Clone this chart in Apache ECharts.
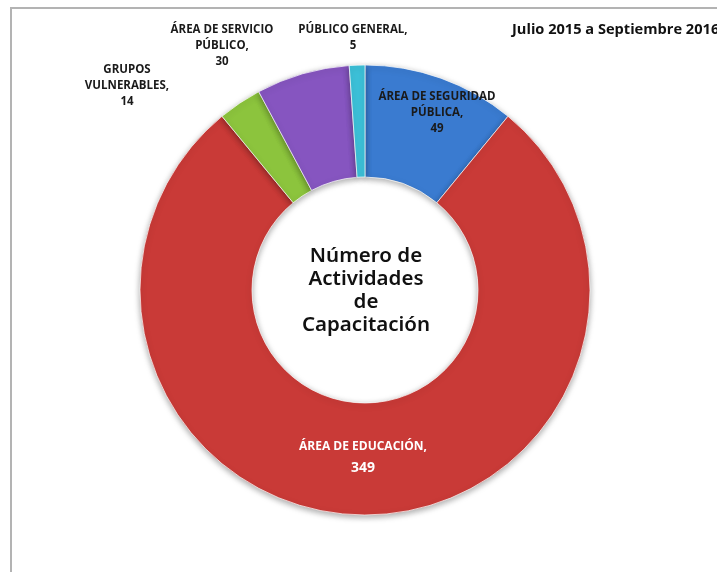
<!DOCTYPE html>
<html>
<head>
<meta charset="utf-8">
<script src="https://cdn.jsdelivr.net/npm/echarts@6/dist/echarts.min.js"></script>
<style>
html,body{margin:0;padding:0;background:#fff;}
#c{width:717px;height:572px;}
</style>
</head>
<body>
<div id="c"></div>
<script>
const categories = ['ÁREA DE SEGURIDAD\nPÚBLICA,', 'ÁREA DE EDUCACIÓN,', 'GRUPOS\nVULNERABLES,', 'ÁREA DE SERVICIO\nPÚBLICO,', 'PÚBLICO GENERAL,'];
const values = [49, 349, 14, 30, 5];
const colors = ['#3a7bd0', '#c93a37', '#8cc43d', '#8655c0', '#3cc0d8'];
const periodText = 'Julio 2015 a Septiembre 2016';
const centerText = 'Número de\nActividades\nde\nCapacitación';

// label anchor positions (label layout only)
const labelPos = [[437, 113], [363, 458], [127, 86], [222, 46], [353, 38]];

const chart = echarts.init(document.getElementById('c'), null, {renderer: 'canvas'});
const labelFont = '"Open Sans", sans-serif';

const data = categories.map((name, i) => {
  const item = {name: name, value: values[i], itemStyle: {color: colors[i]}};
  if (i === 1) {
    item.label = {color: '#ffffff', fontSize: 12, lineHeight: 20, rich: {v: {fontSize: 14, fontWeight: 'bold', color: '#ffffff', lineHeight: 22, fontFamily: labelFont}}};
  }
  return item;
});

chart.setOption({
  animation: false,
  graphic: [
    {type: 'polyline', shape: {points: [[11, 572], [11, 8], [717, 8]]}, style: {stroke: '#b3b3b3', lineWidth: 2, fill: null}, z: 0},
    {type: 'text', left: 512, top: 22, style: {text: periodText, font: 'bold 14.6px "Open Sans", sans-serif', fill: '#111'}},
    {type: 'text', x: 366, y: 291, style: {text: centerText, font: '600 20.5px "Noto Sans", sans-serif', fill: '#111', align: 'center', verticalAlign: 'middle', lineHeight: 23}, z: 10}
  ],
  series: [{
    type: 'pie',
    center: [365, 290],
    radius: [113, 225],
    startAngle: 90,
    clockwise: true,
    avoidLabelOverlap: false,
    itemStyle: {borderColor: 'rgba(255,255,255,0.7)', borderWidth: 1, shadowBlur: 6, shadowColor: 'rgba(0,0,0,0.35)', shadowOffsetY: 2},
    label: {
      show: true,
      position: 'outside',
      formatter: p => p.name + '\n{v|' + p.value + '}',
      fontFamily: labelFont,
      fontSize: 11.5,
      fontWeight: 'bold',
      color: '#1a1a1a',
      lineHeight: 16,
      align: 'center',
      rich: {v: {fontSize: 11.5, fontWeight: 'bold', color: '#1a1a1a', lineHeight: 17, fontFamily: labelFont}}
    },
    labelLine: {show: false},
    labelLayout: function (params) {
      const p = labelPos[params.dataIndex];
      return {x: p[0], y: p[1], align: 'center', verticalAlign: 'middle'};
    },
    emphasis: {disabled: true},
    data: data
  }]
});
</script>
</body>
</html>
